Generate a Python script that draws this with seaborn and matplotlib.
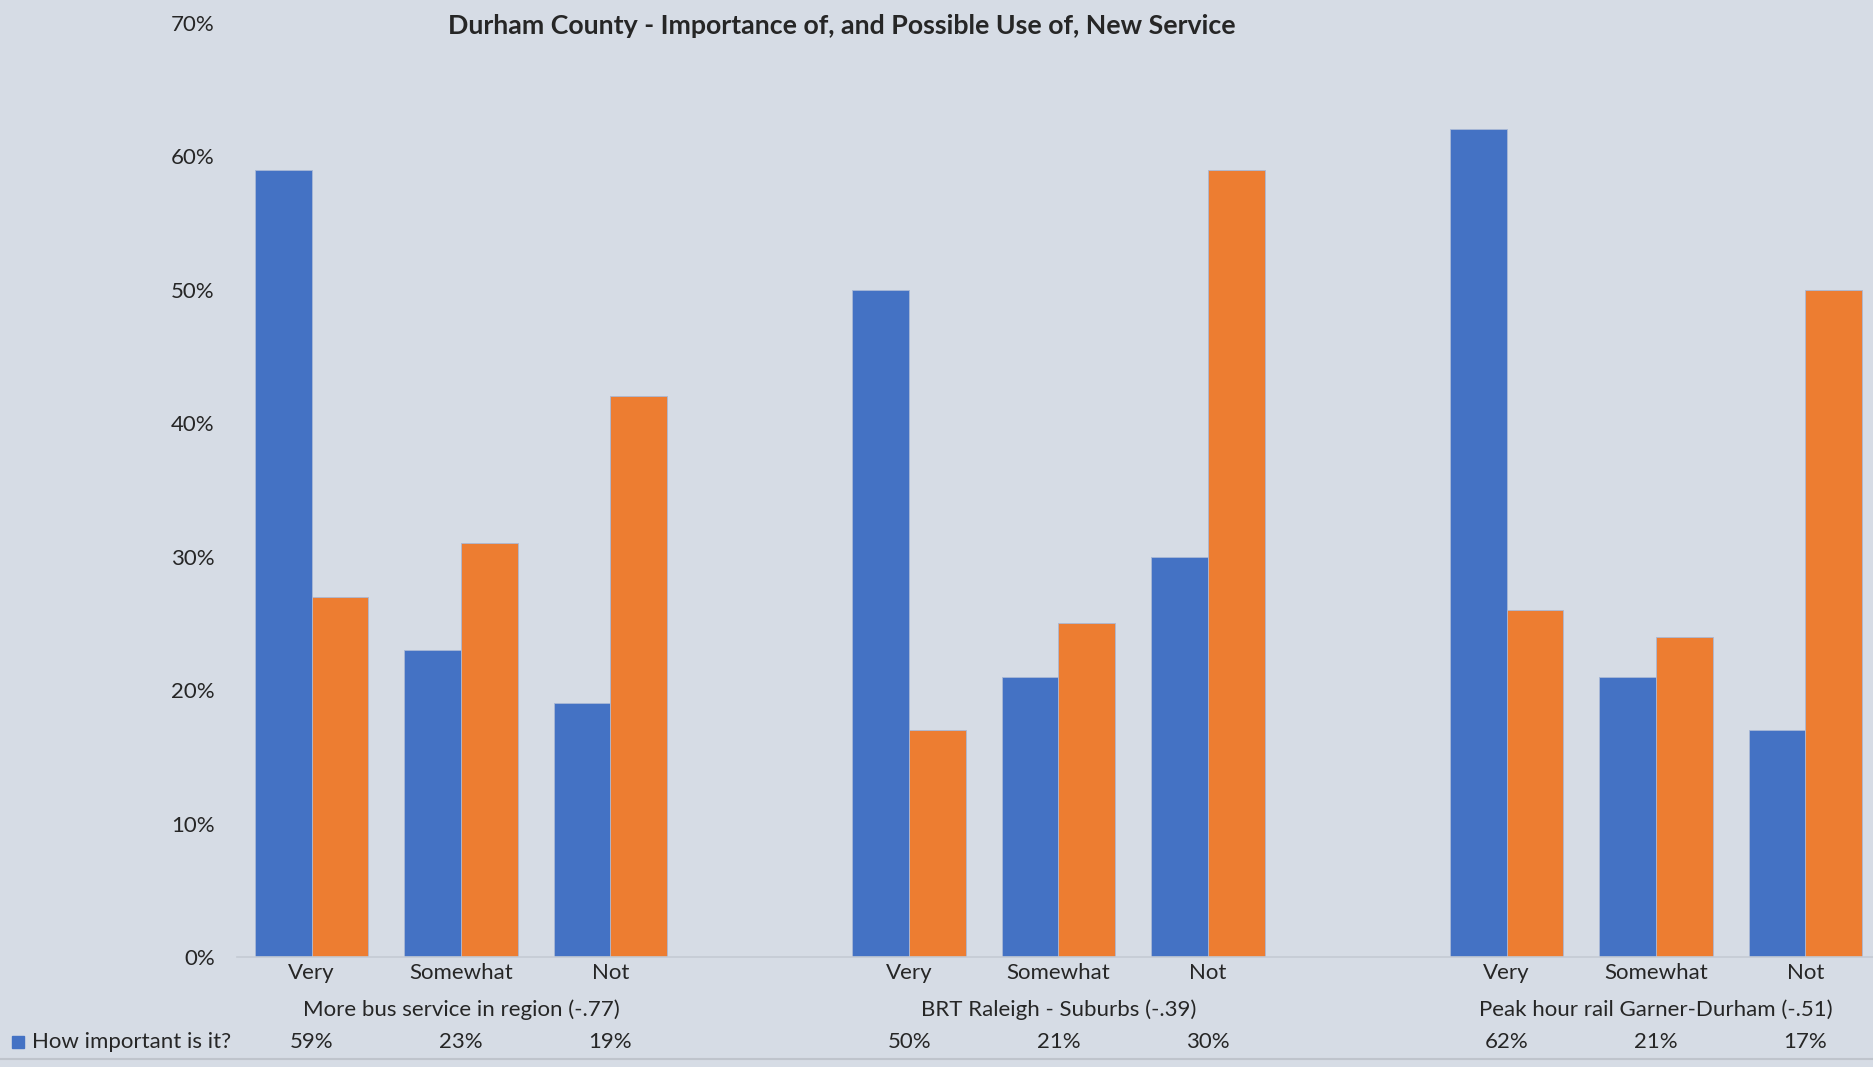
import matplotlib.pyplot as plt
import seaborn as sns
import pandas as pd
from matplotlib.patches import Rectangle
from matplotlib.lines import Line2D
from matplotlib.ticker import PercentFormatter
import matplotlib.transforms as mtransforms

services = ['More bus service in region (-.77)', 'BRT Raleigh - Suburbs (-.39)',
            'Peak hour rail Garner-Durham (-.51)']
levels = ['Very', 'Somewhat', 'Not']
series = ['How important is it?', 'Possible use']
important = [59, 23, 19, 50, 21, 30, 62, 21, 17]
possible_use = [27, 31, 42, 17, 25, 59, 26, 24, 50]

bg = '#D6DCE5'
colors = ['#4472C4', '#ED7D31']

# long table: one row per bar
rows = []
for i, svc in enumerate(services):
    for j, lvl in enumerate(levels):
        k = i * 3 + j
        rows.append({'slot': f'{i}|{lvl}', 'series': series[0], 'value': important[k] / 100})
        rows.append({'slot': f'{i}|{lvl}', 'series': series[1], 'value': possible_use[k] / 100})
df = pd.DataFrame(rows)

# empty slot between the service groups, like the Excel original
order = []
for i in range(len(services)):
    order += [f'{i}|{lvl}' for lvl in levels]
    if i < len(services) - 1:
        order.append(f'gap{i}')

sns.set_style('white', {'axes.facecolor': bg, 'figure.facecolor': bg})
plt.rcParams['font.family'] = ['Lato', 'DejaVu Sans']

fig = plt.figure(figsize=(18.74, 10.67), dpi=100)
ax = fig.add_axes([237 / 1874, 1 - 957 / 1067, 1 - 237 / 1874, (957 - 22.7) / 1067])

sns.barplot(data=df, x='slot', y='value', hue='series', order=order, hue_order=series,
            palette=colors, width=0.76, gap=0, errorbar=None, saturation=1,
            edgecolor='#A9B8D6', linewidth=0.6, legend=False, ax=ax)

ax.set_ylim(0, 0.7)
ax.set_yticks([i / 10 for i in range(8)])
ax.yaxis.set_major_formatter(PercentFormatter(1.0, decimals=0))
ax.set_xlim(-0.5, 10.46)

pos = [order.index(f'{i}|{lvl}') for i in range(len(services)) for lvl in levels]
ax.set_xticks(pos)
ax.set_xticklabels(levels * len(services))
ax.tick_params(axis='x', length=0, pad=4, labelsize=16)
ax.tick_params(axis='y', length=0, pad=16, labelsize=16)
ax.set_xlabel('')
ax.set_ylabel('')
for s in ['left', 'top', 'right']:
    ax.spines[s].set_visible(False)
ax.spines['bottom'].set_color('#C4CAD3')
ax.spines['bottom'].set_linewidth(1.2)

trans = mtransforms.blended_transform_factory(ax.transData, fig.transFigure)
y_group = 1 - 1010 / 1067
y_row = 1 - 1042 / 1067
for i, svc in enumerate(services):
    ax.text(pos[i * 3 + 1], y_group, svc, transform=trans, ha='center', va='center', fontsize=16)
for k, p in enumerate(pos):
    ax.text(p, y_row, f'{important[k]}%', transform=trans, ha='center', va='center', fontsize=16)

fig.add_artist(Rectangle((12 / 1874, y_row - 6 / 1067), 12 / 1874, 12 / 1067,
                         transform=fig.transFigure, color=colors[0]))
fig.text(32 / 1874, y_row, series[0], ha='left', va='center', fontsize=16)
fig.add_artist(Line2D([0, 1], [1 - 1059 / 1067] * 2, transform=fig.transFigure,
                      color='#BFC4CC', lw=1.5))

fig.text(842 / 1874, 1 - 26 / 1067, 'Durham County - Importance of, and Possible Use of, New Service',
         ha='center', va='center', fontsize=19.3, fontweight='bold')

fig.savefig('out.png', dpi=100, facecolor=bg)
